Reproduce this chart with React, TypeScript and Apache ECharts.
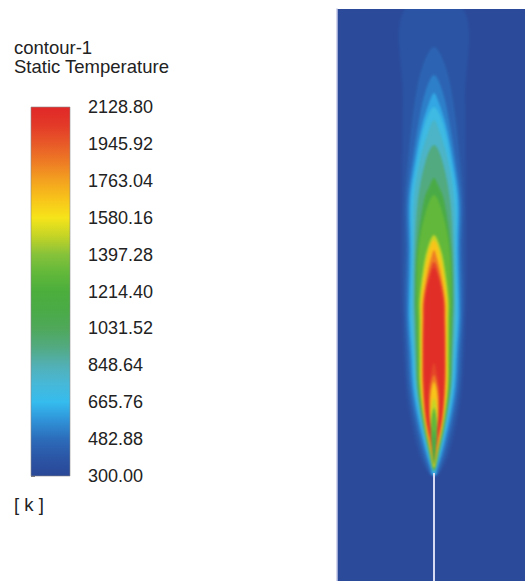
import React, { useEffect, useRef } from "react";
import * as echarts from "echarts";

// ---- colour bar (legend) ----
const tickLabels = ["300.00", "482.88", "665.76", "848.64", "1031.52", "1214.40", "1397.28", "1580.16", "1763.04", "1945.92", "2128.80"];
const tMin = 300;
const tMax = 2128.8;
// 21 evenly spaced colours from 300 K (index 0) to 2128.8 K (index 20)
const colorStops = [
  "#2a4796", "#2b56a6", "#2c6cba", "#2f92d8", "#35bcee", "#47b8d8", "#52b0b4",
  "#52aa80", "#4fa85a", "#4aab46", "#4bae3c", "#62b83a", "#86c23a", "#c4d426",
  "#f6e41a", "#f8c41a", "#f3a21f", "#ee7c24", "#e85a28", "#e33a28", "#e02828",
];

// ---- flame temperature field: isotherm outlines, [z (above nozzle), r (half width)] ----
const isoLevels = [340, 420, 482, 575, 665, 757, 848, 1031, 1214, 1397, 1580, 1763, 1946, 2060];
const iso340 = [[0, 4], [22, 15], [55, 23], [88, 28], [175, 32], [275, 32], [375, 31], [466, 29]];
const iso420 = [[0, 3], [5, 6], [22, 12], [55, 20], [88, 25.5], [122, 27.5], [175, 29.5], [225, 28.5], [275, 29], [325, 25], [375, 19], [410, 11], [428, 0]];
const iso482 = [[0, 2.5], [5, 4], [22, 9.5], [55, 17.5], [88, 23], [122, 25], [155, 27], [175, 27], [225, 26], [275, 26.5], [315, 21.5], [355, 15], [385, 8], [400, 0]];
const iso575 = [[0, 1.5], [5, 2.5], [22, 7.5], [55, 15.5], [88, 21], [122, 23], [155, 25], [175, 25], [225, 24], [275, 24.5], [315, 19], [350, 12], [372, 5], [382, 0]];
const iso665 = [[1, 0], [5, 1.8], [22, 6.5], [55, 14], [88, 19.5], [122, 21.5], [155, 23.5], [175, 23.5], [225, 22.5], [275, 23], [315, 17], [350, 9.5], [368, 0]];
const iso757 = [[3, 0], [22, 5.5], [55, 13], [88, 18], [122, 20], [155, 21.5], [175, 21.5], [225, 21], [275, 20], [315, 14], [345, 5], [355, 0]];
const iso848 = [[4, 0], [22, 5], [55, 12], [88, 17], [122, 18.5], [155, 19.5], [175, 20], [225, 19], [275, 16], [315, 8], [330, 0]];
const iso1031 = [[5, 0], [22, 4.5], [55, 11], [88, 16], [122, 17], [155, 18], [175, 18.5], [225, 17], [275, 10], [290, 4], [297, 0]];
const iso1214 = [[6, 0], [22, 4], [55, 10.5], [88, 15], [122, 16], [155, 16.5], [175, 17], [225, 15.5], [260, 9], [280, 0]];
const iso1397 = [[7, 0], [22, 3.5], [55, 10], [88, 14], [122, 14.5], [155, 14.5], [175, 14.5], [205, 11], [225, 7], [240, 0]];
const iso1580 = [[9, 0], [22, 3], [55, 9.5], [88, 13], [122, 13], [155, 13], [175, 13], [205, 9], [225, 5], [235, 0]];
const iso1763 = [[12, 0], [22, 2.5], [55, 8.5], [88, 11.5], [122, 11.8], [155, 11.5], [175, 11], [205, 6], [220, 2], [225, 0]];
const iso1946 = [[17, 0], [30, 2.5], [55, 8], [88, 10.5], [122, 11], [155, 10.5], [175, 10], [200, 5], [213, 0]];
const iso2060 = [[25, 0], [40, 3], [55, 7], [88, 10], [122, 10.5], [155, 10], [175, 9], [195, 5], [207, 0]];
const isoProfiles = [iso340, iso420, iso482, iso575, iso665, iso757, iso848, iso1031, iso1214, iso1397, iso1580, iso1763, iso1946, iso2060];

// cooler fuel core near the nozzle: outline of region below each level, and the band value inside it
const coreValues = [2003, 1855, 1671, 1489, 1306, 1122];
const core2060 = [[35, 0], [48, 3.2], [60, 5], [80, 5.5], [100, 3], [112, 0]];
const core1946 = [[33, 0], [42, 2], [52, 4], [70, 4.8], [88, 3.8], [100, 0]];
const core1763 = [[30, 0], [42, 1.8], [55, 3.6], [65, 4], [83, 3], [93, 0]];
const core1580 = [[25, 0], [35, 1.8], [45, 3.2], [65, 2.8], [77, 0]];
const core1397 = [[15, 0], [25, 1.5], [35, 2.7], [55, 2.6], [67, 0]];
const core1214 = [[10, 0], [20, 1.5], [35, 2], [45, 0]];
const coreProfiles = [core2060, core1946, core1763, core1580, core1397, core1214];

// fuel pipe (centre line below the nozzle)
const pipeLine = [[0, -106], [0, 2]];

const FONT = "'Liberation Sans', Arial, Helvetica, sans-serif";
const PANEL_BG = "#2b4a9a";

function tempColor(t: number): string {
  const n = Math.max(0, Math.min(1, (t - tMin) / (tMax - tMin)));
  return echarts.color.lerp(n, colorStops) as string;
}

const flameX = { min: -97, max: 91 };
const flameY = { min: -106, max: 466 };

export default function App() {
  const flameRef = useRef<HTMLDivElement>(null);
  const mainRef = useRef<HTMLDivElement>(null);

  useEffect(() => {
    if (!flameRef.current || !mainRef.current) return;
    const flame = echarts.init(flameRef.current, null, { renderer: "svg" });
    const main = echarts.init(mainRef.current, null, { renderer: "svg" });

    const layers: { profile: number[][]; value: number }[] = [];
    isoProfiles.forEach((p, i) => {
      const next = i + 1 < isoLevels.length ? isoLevels[i + 1] : tMax;
      layers.push({ profile: p, value: (isoLevels[i] + next) / 2 });
    });
    coreProfiles.forEach((p, i) => layers.push({ profile: p, value: coreValues[i] }));

    // flame field (softened by a slight blur of its own layer, like the smooth shading of the original)
    flame.setOption({
      animation: false,
      backgroundColor: PANEL_BG,
      grid: { left: 10, top: 10, width: 188, height: 572, show: false },
      xAxis: { type: "value", ...flameX, show: false },
      yAxis: { type: "value", ...flameY, show: false },
      series: [
        {
          type: "custom",
          silent: true,
          clip: false,
          data: layers.map((_, i) => [0, 0, i]),
          renderItem: (params: any, api: any) => {
            const layer = layers[params.dataIndex];
            const right = layer.profile.map(([z, r]) => api.coord([r, z]));
            const left: number[][] = [];
            for (let k = layer.profile.length - 1; k >= 0; k--) {
              const [z, r] = layer.profile[k];
              if (r > 0) left.push(api.coord([-r, z]));
            }
            // extend layers that reach the top beyond the panel edge
            const pts = right.concat(left);
            return {
              type: "polygon",
              shape: { points: pts, smooth: 0.35 },
              style: { fill: tempColor(layer.value), stroke: null },
            };
          },
        },
      ],
    } as any);

    main.setOption({
      animation: false,
      backgroundColor: "transparent",
      grid: [
        { left: 337, top: 9, width: 188, height: 572, show: false },
        { left: 31, top: 107, width: 39, height: 369, show: false },
      ],
      xAxis: [
        { gridIndex: 0, type: "value", ...flameX, show: false },
        { gridIndex: 1, type: "value", min: 0, max: 1, show: false },
      ],
      yAxis: [
        {
          gridIndex: 0, type: "value", ...flameY,
          axisLine: { show: true, onZero: false, lineStyle: { color: "#c6c8e8", width: 1.5 } },
          axisTick: { show: false }, axisLabel: { show: false }, splitLine: { show: false },
        },
        {
          gridIndex: 1, type: "value", min: 0, max: 10, interval: 1, position: "right",
          axisLine: { show: false },
          axisTick: { show: true, length: 4, lineStyle: { color: "#777", width: 1 } },
          axisLabel: {
            margin: 18, fontSize: 18, color: "#222", fontFamily: FONT,
            formatter: (v: number) => tickLabels[Math.round(v)] ?? "",
          },
          splitLine: { show: false },
        },
      ],
      graphic: [
        { type: "text", style: { x: 14, y: 47, text: "contour-1", fontSize: 18.5, fontFamily: FONT, fill: "#222", verticalAlign: "middle" } },
        { type: "text", style: { x: 14, y: 66, text: "Static Temperature", fontSize: 18.5, fontFamily: FONT, fill: "#222", verticalAlign: "middle" } },
        { type: "text", style: { x: 14, y: 504, text: "[ k ]", fontSize: 18.5, fontFamily: FONT, fill: "#222", verticalAlign: "middle" } },
      ],
      series: [
        {
          type: "line",
          xAxisIndex: 0,
          yAxisIndex: 0,
          silent: true,
          symbol: "none",
          data: pipeLine,
          lineStyle: { color: "#d6daf2", width: 2 },
        },
        {
          type: "custom",
          xAxisIndex: 1,
          yAxisIndex: 1,
          silent: true,
          data: [[0, 0]],
          renderItem: (_params: any, api: any) => {
            const p0 = api.coord([0, 10]);
            const p1 = api.coord([1, 0]);
            return {
              type: "rect",
              shape: { x: p0[0], y: p0[1], width: p1[0] - p0[0], height: p1[1] - p0[1] },
              style: {
                fill: new echarts.graphic.LinearGradient(0, 1, 0, 0,
                  colorStops.map((c, i) => ({ offset: i / (colorStops.length - 1), color: c }))),
                stroke: "#8a8a8a",
                lineWidth: 0.6,
              },
            };
          },
        },
      ],
    } as any);

    return () => {
      flame.dispose();
      main.dispose();
    };
  }, []);

  return (
    <div style={{ position: "fixed", left: 0, top: 0, width: 525, height: 581, background: "#fff", overflow: "hidden" }}>
      <div style={{ position: "absolute", left: 337, top: 9, width: 188, height: 572, overflow: "hidden", background: PANEL_BG }}>
        <div
          ref={flameRef}
          style={{ position: "absolute", left: -10, top: -10, width: 208, height: 592, filter: "blur(1.3px)" }}
        />
      </div>
      <div ref={mainRef} style={{ position: "absolute", left: 0, top: 0, width: 525, height: 581 }} />
    </div>
  );
}
